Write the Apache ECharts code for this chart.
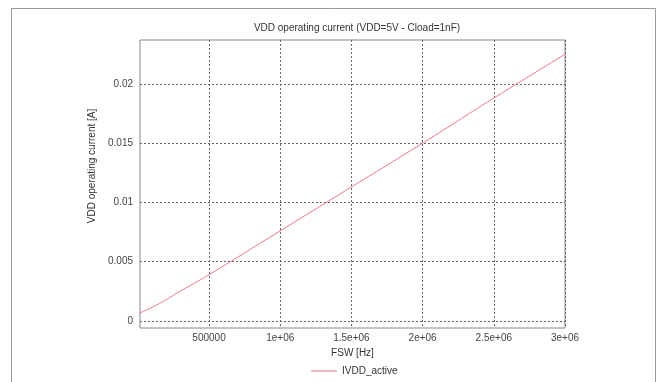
<!DOCTYPE html>
<html>
<head>
<meta charset="utf-8">
<script src="https://cdn.jsdelivr.net/npm/echarts@6/dist/echarts.min.js"></script>
<style>
  html, body { margin: 0; padding: 0; background: #fff; }
  #chart { width: 658px; height: 382px; }
</style>
</head>
<body>
<div id="chart"></div>
<script>
// Switching frequency [Hz] and the supply current drawn at that frequency [A]
const fswHz = [15000, 100000, 200000, 300000, 500000, 1000000, 1500000, 2000000, 2500000, 3000000];
const ivddActive = [0.00067, 0.00115, 0.0018, 0.00252, 0.0039, 0.0076, 0.0113, 0.0150, 0.0188, 0.0225];

// Tick positions shown on each axis
const xTicks = [500000, 1000000, 1500000, 2000000, 2500000, 3000000];
const yTicks = [0, 0.005, 0.01, 0.015, 0.02];

const chart = echarts.init(document.getElementById('chart'), null, { renderer: 'canvas' });

const font = 'Liberation Sans, Arial, sans-serif';
const lineColor = '#ea7a86';
const gridLine = { show: true, lineStyle: { color: '#666', width: 1, type: [2, 2] } };

function fmtX(v) {
  if (v >= 1000000) return (v / 1000000) + 'e+06';
  return String(v);
}

chart.setOption({
  animation: false,
  backgroundColor: '#fff',
  textStyle: { fontFamily: font },
  title: {
    text: 'VDD operating current (VDD=5V - Cload=1nF)',
    left: 352, textAlign: 'center', top: 18,
    textStyle: { fontSize: 10, fontWeight: 'normal', color: '#333', fontFamily: font }
  },
  graphic: [{
    type: 'rect', silent: true,
    shape: { x: 11.5, y: 8.5, width: 644, height: 390 },
    style: { fill: 'none', stroke: '#999', lineWidth: 1 }
  }],
  legend: {
    left: 306, top: 361, orient: 'horizontal',
    icon: 'rect', itemWidth: 26, itemHeight: 1, itemGap: 10,
    textStyle: { fontSize: 10, color: '#333', fontFamily: font },
    data: ['IVDD_active']
  },
  grid: {
    left: 140, top: 40, right: 93, bottom: 54,
    show: true, borderColor: '#888', borderWidth: 1, backgroundColor: 'transparent'
  },
  xAxis: {
    type: 'value',
    min: 15000, max: 3000000,
    name: 'FSW [Hz]', nameLocation: 'middle', nameGap: 20,
    nameTextStyle: { fontSize: 10, color: '#333', fontFamily: font },
    axisLine: { show: false },
    axisTick: { show: false, customValues: xTicks },
    axisLabel: { customValues: xTicks, formatter: fmtX, fontSize: 10, color: '#444', margin: 5, fontFamily: font },
    splitLine: gridLine
  },
  yAxis: {
    type: 'value',
    min: -0.0006, max: 0.0237,
    name: 'VDD operating current [A]', nameLocation: 'middle', nameGap: 37,
    nameTextStyle: { fontSize: 10, color: '#333', fontFamily: font, padding: [0, 0, 0, 36] },
    axisLine: { show: false },
    axisTick: { show: false, customValues: yTicks },
    axisLabel: { customValues: yTicks, fontSize: 10, color: '#444', margin: 7, fontFamily: font },
    splitLine: gridLine
  },
  series: [{
    name: 'IVDD_active',
    type: 'line',
    data: fswHz.map((f, i) => [f, ivddActive[i]]),
    smooth: true,
    showSymbol: false,
    lineStyle: { color: lineColor, width: 1 },
    itemStyle: { color: lineColor }
  }]
});
</script>
</body>
</html>
